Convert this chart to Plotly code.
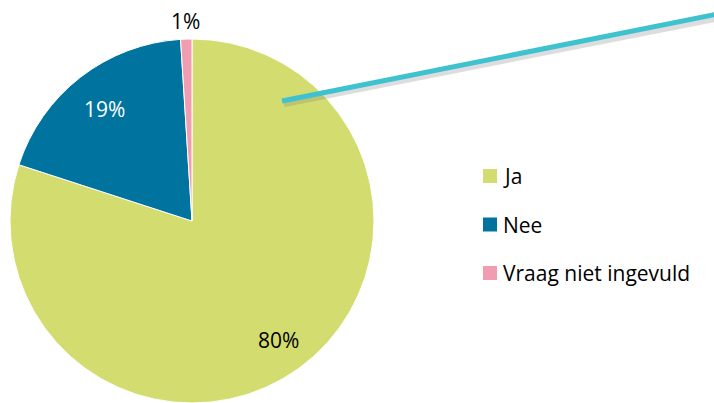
import math
import plotly.graph_objects as go

categories = ["Ja", "Nee", "Vraag niet ingevuld"]
values = [80, 19, 1]
label_texts = ["80%", "19%", "1%"]
colors = ["#D3DC6F", "#00749E", "#F09DB2"]
label_colors = ["#000000", "#FFFFFF", "#000000"]
label_radius_frac = [0.81, 0.78, 1.10]

W, H = 714, 403
cx, cy, R = 192, 221, 182  # pie centre and radius in pixels (from top-left)
FONT = "Open Sans"

fig = go.Figure(go.Pie(
    labels=categories, values=values, sort=False, direction="clockwise", rotation=0,
    marker=dict(colors=colors, line=dict(color="white", width=1)),
    textinfo="none", hoverinfo="label+percent", showlegend=False,
    domain=dict(x=[(cx - R) / W, (cx + R) / W], y=[0, (H - cy + R) / H]),
))

# percentage labels placed at the slice mid angles
total = sum(values)
cum = 0
for v, t, c, f in zip(values, label_texts, label_colors, label_radius_frac):
    mid = (cum + v / 2) / total * 2 * math.pi
    cum += v
    px = cx + f * R * math.sin(mid)
    py = cy - f * R * math.cos(mid)
    fig.add_annotation(x=px / W, y=1 - py / H, xref="paper", yref="paper", text=t,
                       showarrow=False, font=dict(family=FONT, size=21, color=c),
                       xanchor="center", yanchor="middle")

# teal connector line with soft shadow
fig.add_shape(type="line", xref="paper", yref="paper",
              x0=284 / W, y0=1 - 104 / H, x1=720 / W, y1=1 - 18 / H,
              line=dict(color="rgba(120,120,120,0.25)", width=6))
fig.add_shape(type="line", xref="paper", yref="paper",
              x0=282 / W, y0=1 - 101 / H, x1=718 / W, y1=1 - 14 / H,
              line=dict(color="#3EC2CF", width=5))

# legend drawn manually
lx, ly0, gap, sq = 483, 176, 48.5, 14
for i, (cat, col) in enumerate(zip(categories, colors)):
    yc = ly0 + i * gap
    fig.add_shape(type="rect", xref="paper", yref="paper",
                  x0=lx / W, x1=(lx + sq) / W, y0=1 - (yc - sq / 2) / H, y1=1 - (yc + sq / 2) / H,
                  fillcolor=col, line=dict(width=0))
    fig.add_annotation(x=(lx + sq + 4) / W, y=1 - yc / H, xref="paper", yref="paper",
                       text=cat, showarrow=False, xanchor="left", yanchor="middle",
                       font=dict(family=FONT, size=21, color="#000000"))

fig.update_layout(width=W, height=H, margin=dict(l=0, r=0, t=0, b=0),
                  paper_bgcolor="white", plot_bgcolor="white", showlegend=False)

fig.write_html("out.html", config={"displayModeBar": False},
               post_script="document.body.style.margin='0';document.body.style.overflow='hidden';")
